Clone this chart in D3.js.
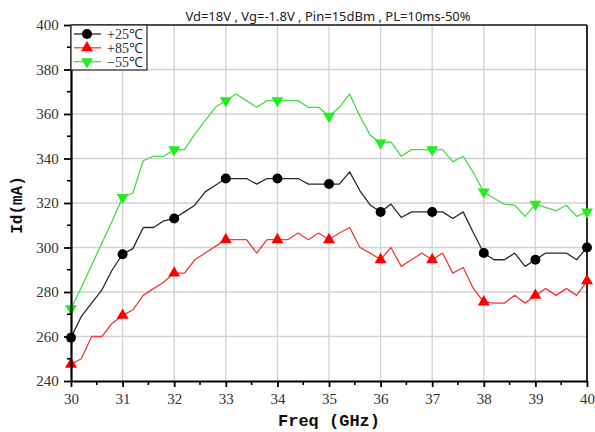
<!DOCTYPE html>
<html>
<head>
<meta charset="utf-8">
<script src="https://cdn.jsdelivr.net/npm/d3@7"></script>
<style>
  html, body { margin: 0; padding: 0; background: #fff; }
  svg { display: block; }
</style>
</head>
<body>
<svg id="chart" width="595" height="432"></svg>
<script>
// Drain current vs frequency at three temperatures
const freq = [30.0, 30.2, 30.4, 30.6, 30.8, 31.0, 31.2, 31.4, 31.6, 31.8,
              32.0, 32.2, 32.4, 32.6, 32.8, 33.0, 33.2, 33.4, 33.6, 33.8,
              34.0, 34.2, 34.4, 34.6, 34.8, 35.0, 35.2, 35.4, 35.6, 35.8,
              36.0, 36.2, 36.4, 36.6, 36.8, 37.0, 37.2, 37.4, 37.6, 37.8,
              38.0, 38.2, 38.4, 38.6, 38.8, 39.0, 39.2, 39.4, 39.6, 39.8, 40.0];

const id25 = [259.5, 269, 275, 281, 290, 297, 299.5, 309, 309, 312,
              313, 316, 319, 325, 328, 331, 331, 331, 328.5, 331,
              331, 331, 331, 328.5, 328.5, 328.5, 328.5, 334, 325.5, 319,
              316, 319.5, 313.5, 316, 316, 316, 316, 313, 316, 306.5,
              297.5, 294.5, 294.5, 297.5, 291.5, 294.5, 297.5, 297.5, 297.5, 294.5, 300];

const id85 = [247.5, 250, 260, 260, 266, 269.5, 272, 278.5, 281.5, 284.5,
              288.5, 288.5, 294.5, 297.5, 300.5, 303.5, 303.5, 303.5, 297.5, 303.5,
              303.5, 303.5, 306.5, 303.5, 306.5, 303.5, 306.5, 309, 300, 297.5,
              294.5, 300, 291.5, 294.5, 297.5, 294.5, 297.5, 288.5, 291, 281.5,
              275.5, 275, 275, 278.5, 275, 278.5, 281.5, 278.5, 281.5, 278.5, 285];

const idm55 = [272.5, 282, 292, 302, 312, 322.5, 324.5, 339, 341, 341,
               344, 344, 351, 357, 363, 366, 369, 366, 363, 366,
               366, 366, 366, 363, 363, 359, 363, 369, 359, 350.5,
               347, 347.5, 341, 344, 344, 344, 344, 338.5, 341, 333.5,
               325, 322, 319.5, 319, 314, 319.5, 318, 316.5, 319, 314, 316];

const seriesNames = ["+25℃", "+85℃", "−55℃"];
const xTicks = [30, 31, 32, 33, 34, 35, 36, 37, 38, 39, 40];
const yTicks = [240, 260, 280, 300, 320, 340, 360, 380, 400];
const titleText = "Vd=18V , Vg=-1.8V , Pin=15dBm , PL=10ms-50%";

const series = [
  { name: seriesNames[0], values: id25,  line: "#2a2a2a", fill: "#000000", shape: "circle" },
  { name: seriesNames[1], values: id85,  line: "#f03a3a", fill: "#ff0000", shape: "up" },
  { name: seriesNames[2], values: idm55, line: "#45dd45", fill: "#22ee22", shape: "down" }
];

const svg = d3.select("#chart");
const pL = 71, pR = 587, pT = 25, pB = 381;

const x = d3.scaleLinear().domain([30, 40]).range([pL, pR]);
const y = d3.scaleLinear().domain([240, 400]).range([pB, pT]);

// grid
const grid = svg.append("g").attr("stroke", "#d2d2d2").attr("stroke-width", 1.3);
grid.selectAll("line.vx").data(xTicks.slice(1, -1)).join("line")
  .attr("x1", d => x(d)).attr("x2", d => x(d)).attr("y1", pT).attr("y2", pB);
grid.selectAll("line.hy").data(yTicks.slice(1, -1)).join("line")
  .attr("y1", d => y(d)).attr("y2", d => y(d)).attr("x1", pL).attr("x2", pR);

// frame top and right
svg.append("line").attr("x1", pL).attr("x2", pR).attr("y1", pT).attr("y2", pT)
  .attr("stroke", "#111").attr("stroke-width", 1.5);
svg.append("line").attr("x1", pR).attr("x2", pR).attr("y1", pT).attr("y2", pB)
  .attr("stroke", "#111").attr("stroke-width", 1.8);

// series lines
const lineGen = d3.line().x((d, i) => x(freq[i])).y(d => y(d));
series.forEach(s => {
  svg.append("path").datum(s.values)
    .attr("d", lineGen)
    .attr("fill", "none")
    .attr("stroke", s.line)
    .attr("stroke-width", 1.3)
    .attr("stroke-linejoin", "round");
});

// markers at whole GHz
function markerPath(shape) {
  if (shape === "circle") return d3.symbol(d3.symbolCircle, 78)();
  return d3.symbol(d3.symbolTriangle, 62)();
}
series.forEach(s => {
  const pts = s.values.map((v, i) => ({ f: freq[i], v }))
    .filter(p => Math.abs(p.f - Math.round(p.f)) < 1e-6);
  svg.append("g").selectAll("path").data(pts).join("path")
    .attr("d", markerPath(s.shape))
    .attr("transform", p => `translate(${x(p.f)},${y(p.v)})` + (s.shape === "down" ? " rotate(180)" : ""))
    .attr("fill", s.fill);
});

// axes
const tickFont = "'Liberation Serif', 'Times New Roman', serif";
const xAxis = svg.append("g").attr("transform", `translate(0,${pB})`)
  .call(d3.axisBottom(x).tickValues(xTicks).tickFormat(d3.format("d")).tickSize(6).tickSizeOuter(0));
const yAxis = svg.append("g").attr("transform", `translate(${pL},0)`)
  .call(d3.axisLeft(y).tickValues(yTicks).tickFormat(d3.format("d")).tickSize(7).tickSizeOuter(0));
[xAxis, yAxis].forEach(a => {
  a.select(".domain").attr("stroke", "#000").attr("stroke-width", 2.2);
  a.selectAll(".tick line").attr("stroke", "#000").attr("stroke-width", 1.8);
  a.selectAll(".tick text").attr("font-family", tickFont).attr("font-size", 15).attr("fill", "#333");
});
xAxis.selectAll(".tick text").attr("dy", "0.95em");
yAxis.selectAll(".tick text").attr("dx", "-0.15em");

// minor ticks
const minorX = xTicks.slice(0, -1).map(d => d + 0.5);
const minorY = yTicks.slice(0, -1).map(d => d + 10);
svg.append("g").selectAll("line").data(minorX).join("line")
  .attr("x1", d => x(d)).attr("x2", d => x(d)).attr("y1", pB).attr("y2", pB + 4)
  .attr("stroke", "#000").attr("stroke-width", 1.6);
svg.append("g").selectAll("line").data(minorY).join("line")
  .attr("y1", d => y(d)).attr("y2", d => y(d)).attr("x1", pL - 4).attr("x2", pL)
  .attr("stroke", "#000").attr("stroke-width", 1.6);

// axis titles
const titleFont = "'Liberation Mono', 'DejaVu Sans Mono', monospace";
svg.append("text").attr("x", (pL + pR) / 2).attr("y", 426)
  .attr("text-anchor", "middle").attr("font-family", titleFont)
  .attr("font-weight", "bold").attr("font-size", 17).attr("fill", "#111")
  .text("Freq (GHz)");
svg.append("text").attr("transform", `translate(22,${(pT + pB) / 2 + 2}) rotate(-90)`)
  .attr("text-anchor", "middle").attr("font-family", titleFont)
  .attr("font-weight", "bold").attr("font-size", 16).attr("fill", "#111")
  .text("Id(mA)");

// condition text
svg.append("text").attr("x", 328).attr("y", 21)
  .attr("text-anchor", "middle").attr("font-family", "'Noto Sans', 'DejaVu Sans', sans-serif")
  .attr("font-size", 13).attr("fill", "#222")
  .text(titleText);

// legend
const lg = svg.append("g");
lg.append("rect").attr("x", pL).attr("y", pT).attr("width", 76).attr("height", 45)
  .attr("fill", "#fff").attr("stroke", "#333").attr("stroke-width", 1.3);
series.forEach((s, i) => {
  const ly = 34 + i * 13.8;
  lg.append("line").attr("x1", pL + 3).attr("x2", pL + 30).attr("y1", ly).attr("y2", ly)
    .attr("stroke", s.line).attr("stroke-width", 1.3);
  lg.append("path").attr("d", markerPath(s.shape))
    .attr("transform", `translate(${pL + 16},${ly})` + (s.shape === "down" ? " rotate(180)" : ""))
    .attr("fill", s.fill);
  lg.append("text").attr("x", pL + 36).attr("y", ly + 5)
    .attr("font-family", tickFont).attr("font-size", 14).attr("fill", "#333")
    .text(s.name);
});
</script>
</body>
</html>
